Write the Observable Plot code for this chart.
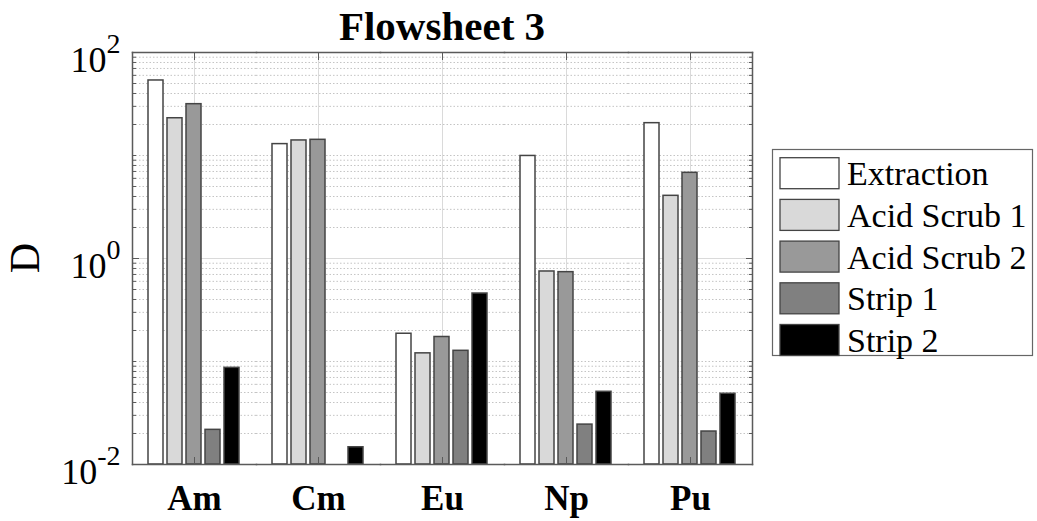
<!DOCTYPE html>
<html>
<head>
<meta charset="utf-8">
<script src="https://cdn.jsdelivr.net/npm/d3@7"></script>
<script src="https://cdn.jsdelivr.net/npm/@observablehq/plot@0.6"></script>
<style>
  html, body { margin: 0; padding: 0; background: #fff; }
  #chart { position: relative; width: 1037px; height: 521px; font-family: "Liberation Serif", "Times New Roman", serif; }
  #chart > svg { position: absolute; left: 0; top: 0; }
</style>
</head>
<body>
<div id="chart"></div>
<script>
// Distribution ratios per element and process stage
const elements = ["Am", "Cm", "Eu", "Np", "Pu"];
const stages = ["Extraction", "Acid Scrub 1", "Acid Scrub 2", "Strip 1", "Strip 2"];
const extraction = [53.5, 12.9, 0.186, 9.9, 20.6];
const acidScrub1 = [23.0, 14.0, 0.120, 0.748, 4.06];
const acidScrub2 = [31.5, 14.2, 0.173, 0.737, 6.79];
const strip1 = [0.0217, null, 0.127, 0.0244, 0.0209];
const strip2 = [0.0868, 0.0147, 0.457, 0.0508, 0.0486];
const stageFills = ["#ffffff", "#d9d9d9", "#999999", "#808080", "#000000"];
const yDomain = [1e-2, 1e2];
const yLabelTicks = [1e-2, 1e0, 1e2];
const titleText = "Flowsheet 3";
const yLabelText = "D";

const series = [extraction, acidScrub1, acidScrub2, strip1, strip2];
const rows = elements.flatMap((el, i) =>
  stages.map((stage, j) => ({el, stage, value: series[j][i]}))
).filter(d => d.value != null);

// minor log ticks: every 1..9 × 10^k that is not a labelled decade
const allLogTicks = d3.scaleLog().domain(yDomain).ticks();
const minorTicks = allLogTicks.filter(t => !yLabelTicks.some(m => Math.abs(Math.log10(t) - Math.log10(m)) < 1e-9));

const edge = "#5a5a5a";
const blank = () => "";

const plot = Plot.plot({
  width: 1037,
  height: 521,
  marginLeft: 131,
  marginRight: 284,
  marginTop: 52,
  marginBottom: 57,
  style: {fontFamily: "'Liberation Serif', 'Times New Roman', serif", color: "#000", background: "transparent", overflow: "visible"},
  fx: {domain: elements, padding: 0, label: null},
  x: {domain: stages, paddingInner: 0.2, paddingOuter: 0.82, axis: null},
  y: {type: "log", domain: yDomain},
  color: {domain: stages, range: stageFills},
  marks: [
    Plot.gridY({ticks: minorTicks, stroke: "#c4c4c4", strokeOpacity: 1, strokeDasharray: "1.5,2"}),
    Plot.gridY({ticks: [1], stroke: "#dadada", strokeOpacity: 1}),
    Plot.gridFx({stroke: "#dadada", strokeOpacity: 1}),
    Plot.barY(rows, {fx: "el", x: "stage", y1: yDomain[0], y2: "value", fill: "stage", stroke: "#444", strokeWidth: 1.5}),
    // inward tick marks
    Plot.axisY({anchor: "left", ticks: yLabelTicks, tickSize: -7, tickFormat: blank, label: null, stroke: edge}),
    Plot.axisY({anchor: "left", ticks: minorTicks, tickSize: -4, tickFormat: blank, label: null, stroke: edge}),
    Plot.axisY({anchor: "right", ticks: yLabelTicks, tickSize: -7, tickFormat: blank, label: null, stroke: edge}),
    Plot.axisY({anchor: "right", ticks: minorTicks, tickSize: -4, tickFormat: blank, label: null, stroke: edge}),
    Plot.axisFx({anchor: "bottom", tickSize: -7, tickFormat: blank, label: null, stroke: edge}),
    Plot.axisFx({anchor: "top", tickSize: -7, tickFormat: blank, label: null, stroke: edge}),
    // tick labels
    Plot.axisY({anchor: "left", ticks: yLabelTicks, tickSize: 0, tickPadding: 12, fontSize: 36,
      lineAnchor: "bottom", dy: 19, label: null,
      tickFormat: d => String(Math.round(Math.log10(d)))}),
    Plot.axisFx({anchor: "bottom", tickSize: 0, tickPadding: 21, fontSize: 35, fontWeight: "bold", label: null}),
    // axes box
    Plot.frame({anchor: "top", stroke: edge, strokeWidth: 1.5}),
    Plot.frame({anchor: "bottom", stroke: edge, strokeWidth: 1.5}),
    Plot.frame({anchor: "left", facetAnchor: "left", stroke: edge, strokeWidth: 1.5}),
    Plot.frame({anchor: "right", facetAnchor: "right", stroke: edge, strokeWidth: 1.5})
  ]
});

// write the decade labels as 10 with a raised exponent (blank tick-only axes are skipped)
d3.select(plot).selectAll('g[aria-label="y-axis tick label"] text').each(function () {
  const exp = this.textContent;
  if (exp === "") return;
  const t = d3.select(this);
  t.text(null);
  t.append("tspan").text("10");
  t.append("tspan").attr("font-size", 28).attr("dy", -19).text(exp);
});

const chart = document.getElementById("chart");
chart.appendChild(plot);

// title, y label and legend
const overlay = d3.select(chart).append("svg")
  .attr("width", 1037).attr("height", 521)
  .style("font-family", "'Liberation Serif', 'Times New Roman', serif")
  .style("pointer-events", "none");

overlay.append("text")
  .attr("x", 442).attr("y", 40)
  .attr("text-anchor", "middle")
  .attr("font-size", 41).attr("font-weight", "bold")
  .text(titleText);

overlay.append("text")
  .attr("transform", "translate(39,258) rotate(-90)")
  .attr("text-anchor", "middle")
  .attr("font-size", 42)
  .text(yLabelText);

const legend = overlay.append("g");
legend.append("rect")
  .attr("x", 772.5).attr("y", 149.5).attr("width", 260).attr("height", 206)
  .attr("fill", "#fff").attr("stroke", "#666").attr("stroke-width", 1.2);
const item = legend.selectAll("g.item").data(stages).join("g")
  .attr("class", "item")
  .attr("transform", (d, i) => `translate(780,${157.7 + 41.7 * i})`);
item.append("rect")
  .attr("width", 59).attr("height", 31)
  .attr("fill", (d, i) => stageFills[i])
  .attr("stroke", "#444").attr("stroke-width", 1.3);
item.append("text")
  .attr("x", 67).attr("y", 27.5)
  .attr("font-size", 34)
  .text(d => d);
</script>
</body>
</html>
